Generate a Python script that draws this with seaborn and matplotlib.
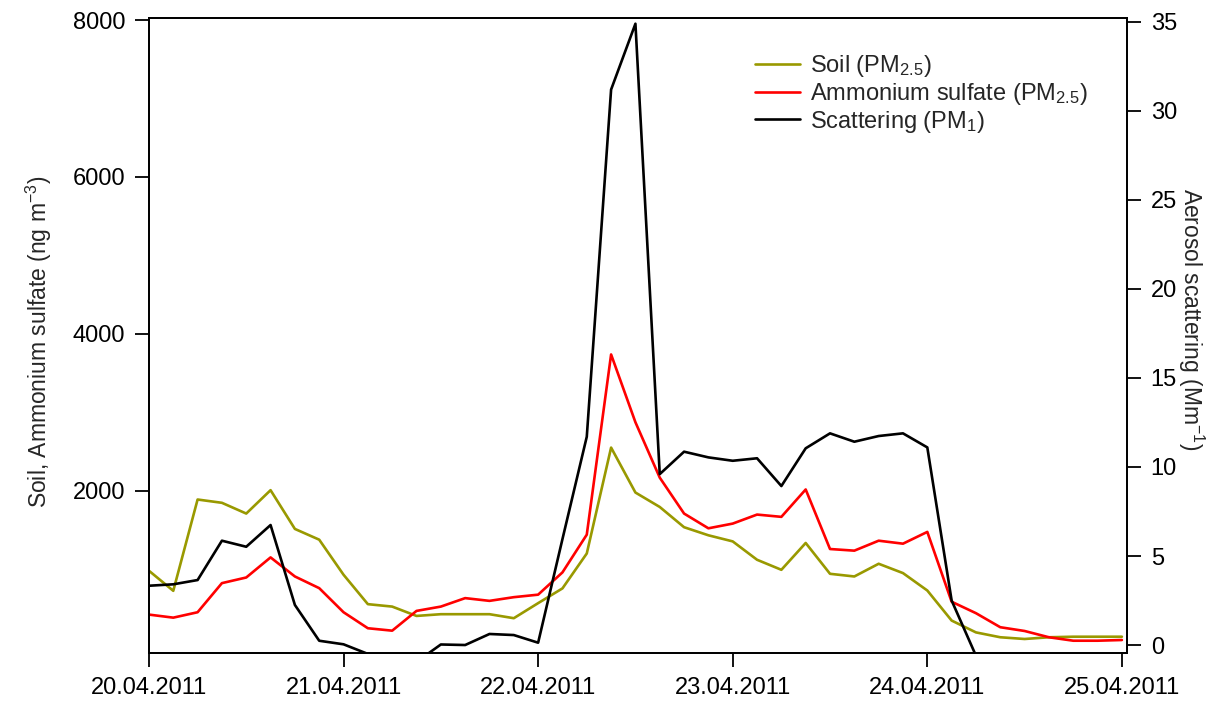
import numpy as np
import pandas as pd
import matplotlib
matplotlib.use("Agg")
import matplotlib.pyplot as plt
import matplotlib.dates as mdates
import seaborn as sns

# 3-hourly samples, 20.04.2011 00:00 .. 25.04.2011 00:00
times = pd.date_range("2011-04-20", periods=41, freq="3h")

# Soil (PM2.5), ng m-3
soil = [980, 724, 1888, 1846, 1709, 2007, 1513, 1376, 929, 554,
        523, 404, 426, 426, 426, 375, 567, 755, 1200, 2550,
        1977, 1793, 1535, 1432, 1354, 1120, 992, 1334, 941, 907,
        1069, 950, 728, 345, 194, 132, 110, 132, 139, 139, 139]

# Ammonium sulfate (PM2.5), ng m-3
ammsulf = [421, 382, 451, 822, 894, 1150, 907, 758, 451, 247,
           216, 468, 523, 631, 596, 643, 675, 959, 1440, 3737,
           2873, 2167, 1709, 1521, 1581, 1696, 1667, 2016, 1257, 1236,
           1363, 1325, 1475, 585, 439, 260, 212, 132, 88, 88, 97]

# Scattering (PM1), Mm-1
scatter = [3.33, 3.41, 3.65, 5.86, 5.52, 6.74, 2.25, 0.24, 0.04, -0.5,
           np.nan, -0.95, 0.03, 0.0, 0.62, 0.56, 0.13, 5.95, 11.7, 31.2,
           34.9, 9.6, 10.86, 10.54, 10.35, 10.49, 8.93, 11.05, 11.89, 11.42,
           11.74, 11.89, 11.1, 2.5, -0.6, np.nan, np.nan, np.nan, np.nan, np.nan, np.nan]

df = pd.DataFrame({"time": times, "soil": soil, "ammsulf": ammsulf, "scatter": scatter})

sns.set_style("ticks")
plt.rcParams["font.family"] = ["Liberation Sans", "DejaVu Sans"]
plt.rcParams["mathtext.fontset"] = "custom"
plt.rcParams["mathtext.rm"] = "Liberation Sans"
plt.rcParams["mathtext.it"] = "Liberation Sans:italic"
plt.rcParams["mathtext.bf"] = "Liberation Sans:bold"

fig = plt.figure(figsize=(12.32, 7.04), dpi=100)
ax = fig.add_axes([0.1209, 0.0724, 0.7939, 0.902])
ax2 = ax.twinx()

olive = "#999900"
lw = 1.9
sns.lineplot(data=df, x="time", y="soil", ax=ax, color=olive, lw=lw, label="Soil (PM$_{2.5}$)", legend=False)
sns.lineplot(data=df, x="time", y="ammsulf", ax=ax, color="#ff0000", lw=lw,
             label="Ammonium sulfate (PM$_{2.5}$)", legend=False)
sns.lineplot(data=df, x="time", y="scatter", ax=ax2, color="black", lw=lw,
             label="Scattering (PM$_{1}$)", legend=False)

ax.set_xlim(pd.Timestamp("2011-04-20"), pd.Timestamp("2011-04-25 00:38"))
ax.set_ylim(-69, 8026)
ax2.set_ylim(-0.45, 35.22)

ax.set_yticks([2000, 4000, 6000, 8000])
ax2.set_yticks(range(0, 36, 5))
ax.xaxis.set_major_locator(mdates.DayLocator())
ax.xaxis.set_major_formatter(mdates.DateFormatter("%d.%m.%Y"))

for a in (ax, ax2):
    a.tick_params(labelsize=17, length=10, width=1.3, pad=7, colors="black")
    for s in a.spines.values():
        s.set_linewidth(1.3)
        s.set_color("black")
        s.set_visible(True)

ax.set_xlabel("")
ax.set_ylabel("Soil, Ammonium sulfate (ng m$^{-3}$)", fontsize=16.5, va="center")
ax.yaxis.set_label_coords(-0.113, 0.49)
ax2.set_ylabel("Aerosol scattering (Mm$^{-1}$)", fontsize=16.5, rotation=270, va="center")
ax2.yaxis.set_label_coords(1.066, 0.525)

h1, l1 = ax.get_legend_handles_labels()
h2, l2 = ax2.get_legend_handles_labels()
ax2.legend(h1 + h2, l1 + l2, loc="upper left", bbox_to_anchor=(0.62, 0.945),
           frameon=False, fontsize=17, handlelength=1.9, handletextpad=0.4,
           labelspacing=0.08, borderaxespad=0, borderpad=0)

fig.savefig("out.png", dpi=100)
